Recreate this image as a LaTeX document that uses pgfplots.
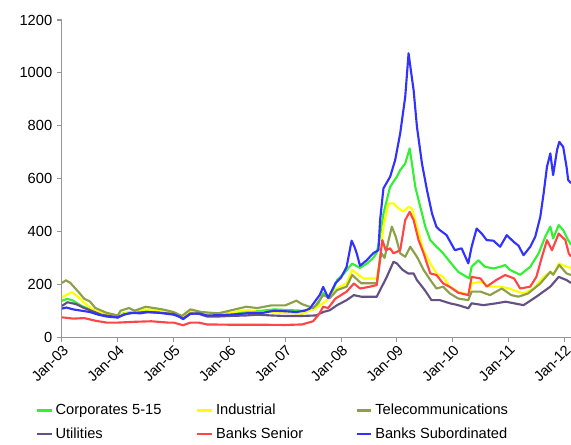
\documentclass[border=0pt]{standalone}
\usepackage{fontspec}
\setmainfont{Liberation Sans}
\usepackage{pgfplots}
\pgfplotsset{compat=1.18}
\definecolor{cgreen}{RGB}{51,240,51}
\definecolor{cyellow}{RGB}{255,255,0}
\definecolor{colive}{RGB}{140,160,70}
\definecolor{cpurple}{RGB}{100,80,130}
\definecolor{cred}{RGB}{255,70,70}
\definecolor{cblue}{RGB}{50,50,255}
\definecolor{axgray}{RGB}{150,150,150}
\begin{document}
\fontsize{11}{13}\selectfont
\begin{tikzpicture}
\path[use as bounding box] (-46.5pt,-80.25pt) rectangle (382pt,253pt);
\begin{axis}[
  at={(0pt,0pt)}, anchor=south west,
  scale only axis, width=382pt, height=238pt,
  xmin=2003, xmax=2012.12, ymin=0, ymax=1200,
  axis x line*=bottom, axis y line*=left,
  axis line style={axgray, line width=0.8pt},
  tick style={axgray, line width=0.8pt},
  tick align=outside, major tick length=3.5pt,
  xtick={2003,2004,2005,2006,2007,2008,2009,2010,2011,2012},
  xticklabels={Jan-03,Jan-04,Jan-05,Jan-06,Jan-07,Jan-08,Jan-09,Jan-10,Jan-11,Jan-12},
  x tick label style={rotate=45, anchor=north east, inner sep=1pt, font=\fontsize{11}{13}\selectfont},
  ytick={0,200,400,600,800,1000,1200},
  y tick label style={font=\fontsize{11}{13}\selectfont},
  /pgf/number format/assume math mode=true,
  /pgf/number format/1000 sep={},
  legend columns=3,
  legend style={draw=none, fill=none, font=\fontsize{11}{13}\selectfont,
    at={([xshift=-23pt,yshift=-46pt]axis description cs:0,0)}, anchor=north west,
    /tikz/every even column/.append style={column sep=0pt},
    row sep=4pt},
  legend cell align=left,
  legend image code/.code={\draw[#1, line width=2pt] (0pt,0pt) -- (11pt,0pt);},
  every axis plot/.append style={line width=1.6pt, line join=round},
  legend entries={Corporates 5-15\hspace*{24pt},Industrial\hspace*{51pt},Telecommunications,Utilities\hspace*{59pt},Banks Senior\hspace*{37pt},Banks Subordinated},
]
\addplot[cgreen] coordinates {(2003.0,138)(2003.1,145)(2003.2,138)(2003.35,118)(2003.5,105)(2003.65,92)(2003.8,85)(2004.0,80)(2004.1,90)(2004.25,95)(2004.5,100)(2004.75,97)(2005.0,90)(2005.17,75)(2005.3,95)(2005.5,92)(2005.7,85)(2006.0,90)(2006.3,95)(2006.5,98)(2006.8,105)(2007.0,103)(2007.3,100)(2007.5,105)(2007.6,130)(2007.68,167)(2007.8,150)(2007.93,216)(2008.05,240)(2008.15,266)(2008.2,278)(2008.34,262)(2008.46,278)(2008.58,300)(2008.64,320)(2008.68,360)(2008.76,468)(2008.88,569)(2009.0,607)(2009.06,632)(2009.15,657)(2009.23,714)(2009.27,657)(2009.33,569)(2009.42,493)(2009.51,418)(2009.6,367)(2009.71,342)(2009.83,317)(2009.95,285)(2010.1,247)(2010.25,228)(2010.3,222)(2010.34,266)(2010.46,291)(2010.58,266)(2010.73,260)(2010.85,266)(2010.94,273)(2011.03,254)(2011.21,236)(2011.39,266)(2011.54,317)(2011.66,380)(2011.75,418)(2011.80,373)(2011.9,424)(2011.98,405)(2012.07,367)(2012.12,350)};
\addplot[cyellow] coordinates {(2003.0,150)(2003.08,160)(2003.18,170)(2003.3,150)(2003.4,130)(2003.55,105)(2003.7,92)(2003.85,85)(2004.0,80)(2004.15,92)(2004.3,95)(2004.5,105)(2004.75,100)(2005.0,90)(2005.17,75)(2005.3,95)(2005.5,92)(2005.7,85)(2006.0,90)(2006.2,100)(2006.35,102)(2006.5,95)(2006.7,95)(2007.0,92)(2007.3,88)(2007.55,110)(2007.68,129)(2007.8,148)(2007.93,185)(2008.1,204)(2008.2,254)(2008.4,222)(2008.64,222)(2008.7,300)(2008.76,418)(2008.85,506)(2008.94,506)(2009.03,487)(2009.12,475)(2009.21,493)(2009.27,487)(2009.36,418)(2009.48,329)(2009.6,279)(2009.71,241)(2009.83,228)(2009.95,191)(2010.1,172)(2010.3,159)(2010.34,203)(2010.5,210)(2010.67,191)(2010.85,191)(2011.0,185)(2011.09,178)(2011.27,165)(2011.45,184)(2011.63,228)(2011.75,247)(2011.82,240)(2011.9,279)(2012.04,266)(2012.12,262)};
\addplot[colive] coordinates {(2003.0,205)(2003.07,215)(2003.15,205)(2003.3,170)(2003.4,145)(2003.5,135)(2003.6,110)(2003.8,92)(2004.0,82)(2004.05,100)(2004.2,110)(2004.3,100)(2004.5,115)(2004.8,105)(2005.0,95)(2005.15,80)(2005.3,105)(2005.5,95)(2005.8,90)(2006.0,100)(2006.3,115)(2006.5,110)(2006.75,120)(2007.0,120)(2007.2,138)(2007.3,125)(2007.5,110)(2007.55,121)(2007.68,159)(2007.8,148)(2007.93,178)(2008.1,191)(2008.2,235)(2008.36,204)(2008.64,204)(2008.72,318)(2008.78,300)(2008.84,355)(2008.91,418)(2008.98,380)(2009.06,317)(2009.15,304)(2009.24,342)(2009.36,304)(2009.48,254)(2009.6,216)(2009.71,184)(2009.83,191)(2009.95,165)(2010.1,146)(2010.28,140)(2010.34,172)(2010.5,172)(2010.67,159)(2010.88,184)(2011.05,159)(2011.18,153)(2011.35,165)(2011.57,203)(2011.75,247)(2011.80,236)(2011.91,273)(2012.04,241)(2012.12,235)};
\addplot[cpurple] coordinates {(2003.0,118)(2003.1,132)(2003.25,125)(2003.4,110)(2003.55,98)(2003.7,85)(2003.85,80)(2004.0,75)(2004.15,88)(2004.3,92)(2004.5,95)(2004.75,92)(2005.0,88)(2005.17,70)(2005.3,90)(2005.45,88)(2005.6,78)(2005.8,78)(2006.0,80)(2006.3,82)(2006.5,85)(2006.75,82)(2007.0,80)(2007.3,80)(2007.55,82)(2007.68,95)(2007.8,102)(2007.93,121)(2008.1,140)(2008.23,159)(2008.36,153)(2008.64,153)(2008.82,228)(2008.94,285)(2009.0,279)(2009.1,255)(2009.2,241)(2009.3,241)(2009.36,216)(2009.5,178)(2009.62,140)(2009.77,140)(2009.95,128)(2010.1,121)(2010.28,109)(2010.34,128)(2010.55,121)(2010.78,128)(2010.95,134)(2011.1,128)(2011.27,121)(2011.5,153)(2011.75,191)(2011.9,228)(2012.04,216)(2012.12,205)};
\addplot[cred] coordinates {(2003.0,75)(2003.2,70)(2003.4,72)(2003.6,62)(2003.8,55)(2004.0,55)(2004.3,58)(2004.6,60)(2004.9,55)(2005.0,55)(2005.17,45)(2005.3,55)(2005.45,55)(2005.6,48)(2006.0,47)(2006.5,47)(2007.0,46)(2007.3,48)(2007.5,60)(2007.6,85)(2007.68,115)(2007.77,110)(2007.9,146)(2008.1,172)(2008.23,203)(2008.34,184)(2008.5,190)(2008.64,197)(2008.7,300)(2008.74,367)(2008.8,329)(2008.88,336)(2008.94,317)(2009.06,329)(2009.15,443)(2009.23,474)(2009.3,443)(2009.39,367)(2009.48,317)(2009.6,241)(2009.71,235)(2009.83,203)(2009.95,190)(2010.1,168)(2010.28,159)(2010.34,228)(2010.5,222)(2010.61,191)(2010.78,216)(2010.94,235)(2011.1,222)(2011.21,184)(2011.39,191)(2011.5,228)(2011.6,304)(2011.69,367)(2011.78,329)(2011.9,392)(2012.02,367)(2012.08,317)(2012.12,305)};
\addplot[cblue] coordinates {(2003.0,108)(2003.08,112)(2003.2,105)(2003.35,100)(2003.5,95)(2003.65,85)(2003.8,78)(2004.0,74)(2004.1,85)(2004.25,92)(2004.4,90)(2004.55,95)(2004.75,92)(2005.0,85)(2005.1,78)(2005.17,68)(2005.3,88)(2005.45,90)(2005.6,82)(2005.8,83)(2006.0,85)(2006.2,88)(2006.4,92)(2006.6,92)(2006.8,100)(2007.0,98)(2007.2,95)(2007.35,100)(2007.44,108)(2007.55,140)(2007.62,160)(2007.68,190)(2007.77,148)(2007.9,204)(2008.0,225)(2008.1,266)(2008.19,365)(2008.24,342)(2008.28,318)(2008.34,270)(2008.46,291)(2008.58,318)(2008.67,329)(2008.70,443)(2008.76,563)(2008.88,607)(2008.97,670)(2009.06,771)(2009.15,909)(2009.21,1074)(2009.25,1011)(2009.30,935)(2009.36,796)(2009.45,657)(2009.54,556)(2009.63,468)(2009.71,417)(2009.77,405)(2009.89,386)(2010.04,329)(2010.16,336)(2010.28,279)(2010.34,342)(2010.43,411)(2010.52,392)(2010.61,367)(2010.73,365)(2010.85,342)(2010.97,386)(2011.09,361)(2011.18,346)(2011.27,310)(2011.39,342)(2011.48,380)(2011.57,455)(2011.63,544)(2011.69,645)(2011.75,695)(2011.80,613)(2011.87,708)(2011.91,739)(2011.98,720)(2012.04,645)(2012.07,594)(2012.12,583)};
\end{axis}
\end{tikzpicture}
\end{document}
